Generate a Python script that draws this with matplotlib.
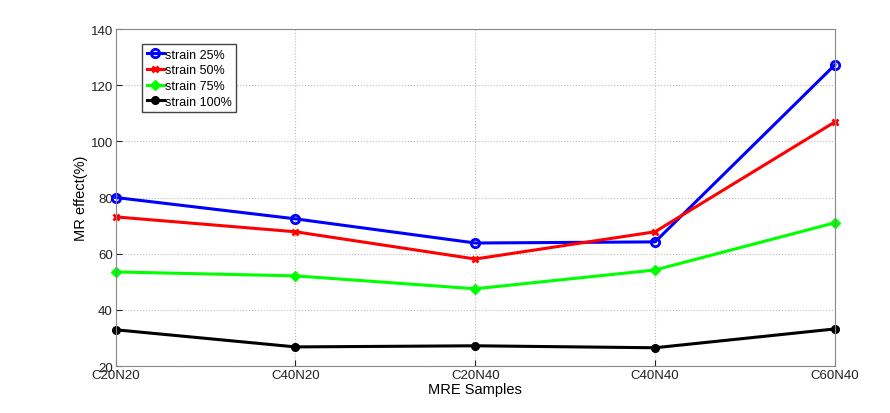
import matplotlib.pyplot as plt

plt.rcParams['font.family'] = ['Liberation Sans', 'DejaVu Sans']

samples = ['C20N20', 'C40N20', 'C20N40', 'C40N40', 'C60N40']
strain_25 = [80.0, 72.4, 63.8, 64.2, 127.2]
strain_50 = [73.1, 67.8, 58.1, 67.8, 106.9]
strain_75 = [53.5, 52.1, 47.5, 54.2, 71.0]
strain_100 = [32.9, 26.8, 27.2, 26.5, 33.2]

fig = plt.figure(figsize=(8.9, 4.14), dpi=100)
ax = fig.add_axes([0.130, 0.1135, 0.808, 0.814])

x = range(len(samples))
ax.plot(x, strain_25, color='#0000ff', lw=2.2, marker='o', ms=6, mfc='none', mew=2,
        label='strain 25%', clip_on=False)
ax.plot(x, strain_50, color='#ff0000', lw=2.2, marker='x', ms=4, mew=2,
        label='strain 50%', clip_on=False)
ax.plot(x, strain_75, color='#00ff00', lw=2.2, marker='D', ms=5,
        label='strain 75%', clip_on=False)
ax.plot(x, strain_100, color='#000000', lw=2.2, marker='o', ms=5.5,
        label='strain 100%', clip_on=False)

ax.set_xlim(0, len(samples) - 1)
ax.set_ylim(20, 140)
ax.set_xticks(list(x))
ax.set_xticklabels(samples)
ax.set_yticks(range(20, 141, 20))
ax.tick_params(direction='in', labelsize=9.5, colors='#222222', length=4, pad=2)
ax.grid(True, linestyle=':', color='#bbbbbb', lw=0.8)
for s in ax.spines.values():
    s.set_color('#888888')

ax.set_xlabel('MRE Samples', fontsize=10.5, labelpad=1)
ax.set_ylabel('MR effect(%)', fontsize=10.5)
ax.yaxis.set_label_coords(-0.039, 0.5)

leg = ax.legend(loc='upper left', bbox_to_anchor=(0.037, 0.955), fontsize=9,
                fancybox=False, framealpha=1, edgecolor='#444444',
                handlelength=1.4, handletextpad=0.05, borderpad=0.35, labelspacing=0.3,
                borderaxespad=0)

fig.savefig('out.png', dpi=100)
